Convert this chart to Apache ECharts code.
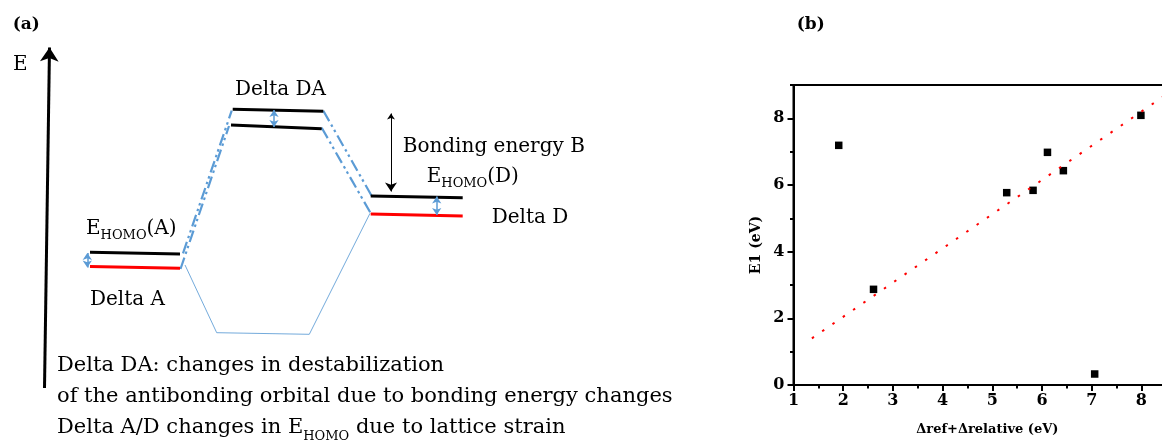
<!DOCTYPE html>
<html>
<head>
<meta charset="utf-8">
<script src="https://cdn.jsdelivr.net/npm/echarts@6/dist/echarts.min.js"></script>
<style>
  html, body { margin: 0; padding: 0; background: #fff; }
  #chart { width: 1162px; height: 441px; }
</style>
</head>
<body>
<div id="chart"></div>
<script>
// ---- (a) orbital energy diagram, in schematic units: x = layout, y = energy ----
// each segment: [x0, E0, x1, E1]
const homoLevels = [
  [9.0, 18.87, 18.0, 18.70],    // E_HOMO(A)
  [23.27, 33.17, 32.33, 32.97], // antibonding, upper
  [23.1, 31.6, 32.17, 31.23],   // antibonding, lower
  [37.07, 24.5, 46.27, 24.33]   // E_HOMO(D)
];
const strainedLevels = [
  [9.0, 17.45, 18.0, 17.27],    // A under strain
  [37.07, 22.7, 46.27, 22.5]    // D under strain
];
const correlationLines = [
  [18.3, 18.77, 23.17, 33.03],
  [18.05, 17.2, 22.9, 31.5],
  [32.33, 33.03, 37.17, 24.5],
  [32.17, 31.33, 37.17, 22.6]
];
const bondingPath = [[18.5, 17.6], [21.67, 10.83], [30.93, 10.67], [37.0, 22.77]];
const shiftArrows = [
  [8.73, 18.8, 8.73, 17.35],   // Delta A
  [27.4, 33.1, 27.4, 31.4],    // Delta DA
  [43.67, 24.45, 43.67, 22.6]  // Delta D
];
const bondingArrow = [39.1, 32.75, 39.1, 24.95];
const energyAxis = [4.45, 5.3, 4.95, 39.35];

// ---- (b) E1 against Δref+Δrelative ----
const deltaSum = [1.91, 2.61, 5.29, 5.82, 6.11, 6.43, 7.06, 7.99];
const e1 = [7.19, 2.87, 5.77, 5.84, 6.98, 6.43, 0.33, 8.09];
const fitX = [1.37, 8.7];
const fitY = [1.40, 8.92];
const xTicks = { min: 1, max: 9, step: 1 };
const yTicks = { min: 0, max: 9, step: 2 };

const SERIF = '"DejaVu Serif", "Liberation Serif", serif';
const BLUE = '#5b9bd5';

const segs = arr => arr.map(s => ({ coords: [[s[0], s[1]], [s[2], s[3]]] }));
const linesSeries = (data, lineStyle, symbol, symbolSize) => ({
  type: 'lines',
  coordinateSystem: 'cartesian2d',
  xAxisIndex: 0, yAxisIndex: 0,
  data: data,
  symbol: symbol || ['none', 'none'],
  symbolSize: symbolSize || 0,
  lineStyle: Object.assign({ opacity: 1, curveness: 0 }, lineStyle),
  silent: true,
  animation: false,
  z: 5
});

const sub = (fs, lh) => ({ fontFamily: SERIF, fontSize: fs, lineHeight: lh, verticalAlign: 'bottom', fill: '#000' });
const main = (fs, lh) => ({ fontFamily: SERIF, fontSize: fs, lineHeight: lh, fill: '#000' });

const label = (x, y, text, size) => ({
  type: 'text', x: x, y: y, silent: true,
  style: { text: text, font: (size || 20) + 'px ' + SERIF, fill: '#000', align: 'left', verticalAlign: 'middle' }
});
const homoLabel = (x, y, who) => ({
  type: 'text', x: x, y: y, silent: true,
  style: {
    text: '{m|E}{s|HOMO}{m|(' + who + ')}',
    align: 'left', verticalAlign: 'middle',
    rich: { m: main(20, 26), s: sub(13, 10) }
  }
});

const chart = echarts.init(document.getElementById('chart'), null, { renderer: 'canvas' });

const axisBlack = { color: '#000', width: 2 };
const tickFont = { fontFamily: SERIF, fontWeight: 'bold', fontSize: 16, color: '#000' };

chart.setOption({
  backgroundColor: '#fff',
  animation: false,
  grid: [
    { left: 0, top: 0, width: 700, height: 441, show: false, outerBoundsMode: 'none', containLabel: false },
    { left: 793.5, top: 85, width: 397.6, height: 300, show: true, outerBoundsMode: 'none', containLabel: false,
      borderColor: '#000', borderWidth: 2, backgroundColor: 'transparent' }
  ],
  xAxis: [
    { type: 'value', gridIndex: 0, min: 0, max: 70, show: false },
    { type: 'value', gridIndex: 1, position: 'bottom', min: xTicks.min, max: xTicks.max, interval: xTicks.step,
      axisLine: { lineStyle: axisBlack },
      axisTick: { length: 6, lineStyle: { color: '#000', width: 2 } },
      minorTick: { show: true, splitNumber: 2, length: 3.5, lineStyle: { color: '#000', width: 2 } },
      splitLine: { show: false },
      axisLabel: Object.assign({ margin: 8 }, tickFont),
      name: 'Δref+Δrelative (eV)', nameLocation: 'middle', nameGap: 38,
      nameTextStyle: { fontFamily: SERIF, fontWeight: 'bold', fontSize: 13, color: '#000', padding: [0, 10, 0, 0] } }
  ],
  yAxis: [
    { type: 'value', gridIndex: 0, min: 0, max: 44.1, show: false },
    { type: 'value', gridIndex: 1, position: 'left', min: yTicks.min, max: yTicks.max, interval: yTicks.step,
      axisLine: { lineStyle: axisBlack },
      axisTick: { length: 6, lineStyle: { color: '#000', width: 2 } },
      splitLine: { show: false },
      axisLabel: Object.assign({ margin: 9, showMaxLabel: false }, tickFont),
      name: 'E1 (eV)', nameLocation: 'middle', nameGap: 30,
      nameTextStyle: { fontFamily: SERIF, fontWeight: 'bold', fontSize: 14, color: '#000', padding: [0, 20, 0, 0] } },
    { type: 'value', gridIndex: 1, position: 'left', offset: 0, min: yTicks.min, max: yTicks.max, interval: yTicks.step / 2,
      axisLine: { show: false },
      axisTick: { length: 3.5, lineStyle: { color: '#000', width: 2 } },
      axisLabel: { show: false }, splitLine: { show: false } }
  ],
  series: [
    Object.assign(linesSeries([{ coords: bondingPath }], { color: BLUE, width: 1, opacity: 0.85 }), { polyline: true }),
    linesSeries(segs(correlationLines), { color: BLUE, width: 2.2, type: [12, 4, 2.5, 3.5, 2.5, 4] }),
    linesSeries(segs(homoLevels), { color: '#000', width: 3 }),
    linesSeries(segs(strainedLevels), { color: '#ff0000', width: 3 }),
    linesSeries(segs(shiftArrows), { color: BLUE, width: 1.5 }, ['arrow', 'arrow'], [7, 7]),
    linesSeries(segs([bondingArrow]), { color: '#000', width: 1 }, ['arrow', 'arrow'], [6, 9]),
    linesSeries(segs([energyAxis]), { color: '#000', width: 3 }, ['none', 'arrow'], [10, 14]),
    {
      type: 'scatter', xAxisIndex: 1, yAxisIndex: 1,
      data: deltaSum.map((x, i) => [x, e1[i]]),
      symbol: 'rect', symbolSize: 7.5,
      itemStyle: { color: '#000', opacity: 1 }, silent: true, z: 3
    },
    {
      type: 'line', xAxisIndex: 1, yAxisIndex: 1,
      data: fitX.map((x, i) => [x, fitY[i]]),
      showSymbol: false, clip: false,
      lineStyle: { color: '#ff0000', width: 2, type: [2.5, 10] },
      silent: true, z: 4
    }
  ],
  graphic: [
    { type: 'text', x: 12.7, y: 25, silent: true,
      style: { text: '(a)', font: 'bold 17px ' + SERIF, fill: '#000', verticalAlign: 'middle' } },
    { type: 'text', x: 796.7, y: 25, silent: true,
      style: { text: '(b)', font: 'bold 17px ' + SERIF, fill: '#000', verticalAlign: 'middle' } },
    label(13, 65, 'E', 20),
    label(235, 90, 'Delta DA'),
    homoLabel(86, 229, 'A'),
    label(90, 300, 'Delta A'),
    label(402.7, 147, 'Bonding energy B'),
    homoLabel(426.7, 177, 'D'),
    label(491.7, 218, 'Delta D'),
    { type: 'text', x: 57, y: 350.5, silent: true,
      style: {
        text: '{p|Delta DA: changes in destabilization}\n' +
              '{p|of the antibonding orbital due to bonding energy changes}\n' +
              '{p|Delta A/D changes in E}{s|HOMO}{p| due to lattice strain}',
        align: 'left', verticalAlign: 'top',
        rich: { p: main(21, 31), s: sub(13, 17) }
      } }
  ]
});
</script>
</body>
</html>
